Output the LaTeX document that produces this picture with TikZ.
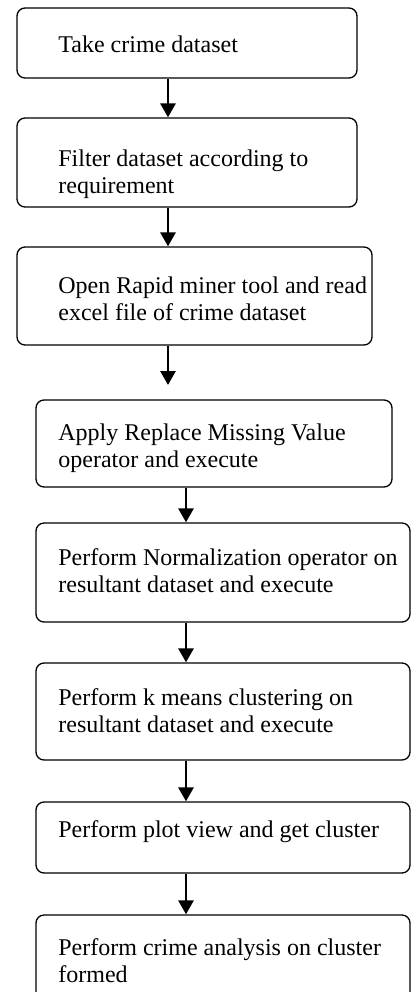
\documentclass[tikz,border=0pt]{standalone}
\usepackage{fontspec}
\setmainfont{Liberation Serif}
\usetikzlibrary{arrows.meta,fit}

\tikzset{
  stepbox/.style={draw, rounded corners=4pt, line width=0.65pt, inner sep=0pt},
  steptext/.style={anchor=base west, align=left, inner sep=0pt, font=\fontsize{12}{13.3}\selectfont},
  flow/.style={-{Triangle[width=7.5pt,length=7pt]}, line width=1.4pt}
}

\begin{document}
\begin{tikzpicture}[x=0.5pt,y=-0.5pt]
          \useasboundingbox (0,0) rectangle (411,992);
          \node[stepbox, fit={(17,8) (357,78)}] (s1) {};
          \node[stepbox, fit={(17,118) (357,207)}] (s2) {};
          \node[stepbox, fit={(17,247) (372,345)}] (s3) {};
          \node[stepbox, fit={(36,400) (392,487)}] (s4) {};
          \node[stepbox, fit={(36,523) (410,622)}] (s5) {};
          \node[stepbox, fit={(36,663) (410,760)}] (s6) {};
          \node[stepbox, fit={(36,802) (410,873)}] (s7) {};
          \node[stepbox, fit={(36,915) (410,1000)}] (s8) {};
          \node[steptext] (t1) at (58,52) {Take crime dataset};
          \node[steptext] (t2) at (58,193) {Filter dataset according to\\requirement};
          \node[steptext] (t3) at (58,320) {Open Rapid miner tool and read\\excel file of crime dataset};
          \node[steptext] (t4) at (58,467) {Apply Replace Missing Value\\operator and execute};
          \node[steptext] (t5) at (58,592) {Perform Normalization operator on\\resultant dataset and execute};
          \node[steptext] (t6) at (58,732) {Perform k means clustering on\\resultant dataset and execute};
          \node[steptext] (t7) at (58,837) {Perform plot view and get cluster};
          \node[steptext] (t8) at (58,982) {Perform crime analysis on cluster\\formed};
          \coordinate (lane1) at (168,0);
          \coordinate (lane2) at (186,0);
          \coordinate (gap) at (168,385);
          \draw[flow] (s1.south -| lane1) -- (s2.north -| lane1);
          \draw[flow] (s2.south -| lane1) -- (s3.north -| lane1);
          \draw[flow] (s3.south -| lane1) -- (gap);
          \draw[flow] (s4.south -| lane2) -- (s5.north -| lane2);
          \draw[flow] (s5.south -| lane2) -- (s6.north -| lane2);
          \draw[flow] (s6.south -| lane2) -- (s7.north -| lane2);
          \draw[flow] (s7.south -| lane2) -- (s8.north -| lane2);
    \end{tikzpicture}
\end{document}
